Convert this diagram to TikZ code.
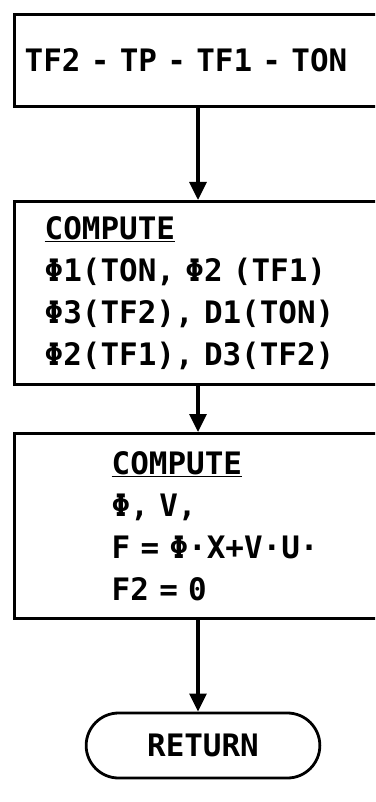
\documentclass[tikz,border=0pt]{standalone}
\usepackage{fontspec}
\setmonofont{DejaVu Sans Mono}
\usetikzlibrary{arrows.meta, shapes.misc}

\begin{document}
\begin{tikzpicture}[x=0.025cm, y=-0.025cm,
  >={Triangle[width=0.42cm, length=0.45cm]},
  flowbox/.style={draw, line width=0.085cm, anchor=north west,
    align=left, text width=10cm, inner ysep=0pt,
    font=\ttfamily\bfseries\fontsize{22}{30}\selectfont},
  terminal/.style={draw, line width=0.07cm, rounded rectangle,
    minimum width=6.075cm, minimum height=1.625cm,
    font=\ttfamily\bfseries\fontsize{22}{25}\selectfont},
  flow/.style={->, line width=0.09cm}]

% page frame (boxes run off the right edge)
\useasboundingbox (0,0) rectangle (375,802);
\clip (0,0) rectangle (375,802);

\coordinate (axis) at (198,0);

% Boxes
\node[flowbox, inner xsep=0.25cm, minimum height=2.3cm] (loads) at (13,13)
  {TF2 - TP - TF1 - TON};

\node[flowbox, inner xsep=0.75cm, minimum height=4.575cm] (phis) at (13,200)
  {\underline{COMPUTE}\\
   Φ1(TON, Φ2 (TF1)\\
   Φ3(TF2), D1(TON)\\
   Φ2(TF1), D3(TF2)};

\node[flowbox, inner xsep=2.425cm, minimum height=4.625cm] (force) at (13,432)
  {\underline{COMPUTE}\\
   Φ, V,\\
   F = Φ·X+V·U·\\
   F2 = 0};

\node[terminal] (ret) at (203,745.5) {RETURN};

% Connectors
\draw[flow] (loads.south -| axis) -- (phis.north -| axis);
\draw[flow] (phis.south -| axis) -- (force.north -| axis);
\draw[flow] (force.south -| axis) -- (ret.north -| axis);

\end{tikzpicture}
\end{document}
